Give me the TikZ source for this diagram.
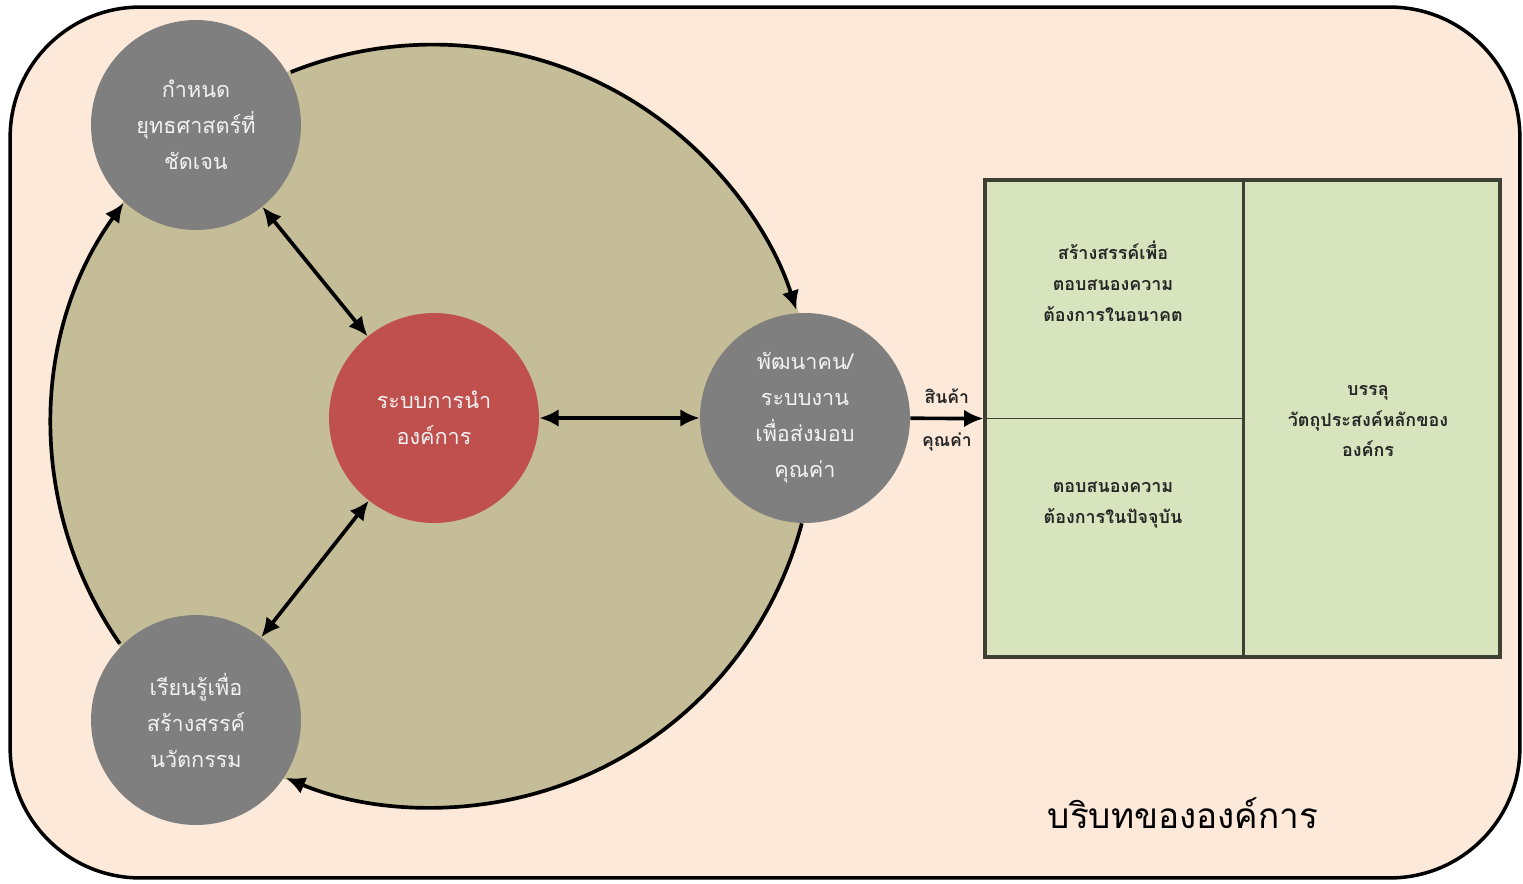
\documentclass[tikz,border=0pt]{standalone}
\usepackage{fontspec}
\newfontfamily\thai[Script=Thai]{Loma}
\usetikzlibrary{arrows.meta}
\definecolor{peach}{HTML}{FDE9D9}
\definecolor{tan}{HTML}{C4BD97}
\definecolor{gcol}{HTML}{7F7F7F}
\definecolor{rcol}{HTML}{C0504D}
\definecolor{grn}{HTML}{D7E4BD}
\definecolor{boxc}{HTML}{3F3F33}
\definecolor{ltext}{HTML}{F2F2F2}
\definecolor{dtext}{HTML}{262626}
\begin{document}
\begin{tikzpicture}[x=0.02cm,y=-0.02cm,
  smallc/.style={circle, inner sep=0pt, minimum size=4.2cm, align=center,
    text=ltext, font={\thai\fontsize{12.3}{20.5}\selectfont}},
  gcirc/.style={smallc, fill=gcol},
  rcirc/.style={smallc, fill=rcol},
  boxtext/.style={align=center, text=dtext, font={\thai\bfseries\fontsize{10.2}{17.6}\selectfont}},
  lbl/.style={text=dtext, font={\thai\bfseries\fontsize{10}{12}\selectfont}},
  conn/.style={line width=2.1pt, -{Latex[length=11pt,width=10pt]}},
  dbl/.style={line width=2.1pt, {Latex[length=11pt,width=10pt]}-{Latex[length=11pt,width=10pt]}}]
\useasboundingbox (0,0) rectangle (1523,883);
\node[draw, line width=2pt, fill=peach, rounded corners=2.6cm,
  minimum width=30.2cm, minimum height=17.42cm, inner sep=0pt] (ctx) at (765,442.5) {};
\node[circle, fill=tan, minimum size=15.32cm, inner sep=0pt, outer sep=0pt] (big) at (433,426) {};
\node[gcirc] (tl) at (196,125) {กำหนด\\ยุทธศาสตร์ที่\\ชัดเจน};
\node[gcirc] (bl) at (196,720) {เรียนรู้เพื่อ\\สร้างสรรค์\\นวัตกรรม};
\node[rcirc] (red) at (434,418) {ระบบการนำ\\องค์การ};
\node[gcirc] (rc) at (805,418) {พัฒนาคน/\\ระบบงาน\\เพื่อส่งมอบ\\คุณค่า};
\draw[conn] (big.center) ++(111.9:7.63cm) arc[start angle=111.9, end angle=17.7, radius=7.63cm];
\draw[conn] (big.center) ++(-14.8:7.63cm) arc[start angle=-14.8, end angle=-112.7, radius=7.63cm];
\draw[conn] (big.center) ++(214.8:7.63cm) arc[start angle=214.8, end angle=144.2, radius=7.63cm];
\draw[dbl] (tl) -- (red);
\draw[dbl] (bl) -- (red);
\draw[dbl] (red) -- (rc);
\node[draw=boxc, line width=1.8pt, fill=grn, minimum width=10.3cm, minimum height=9.54cm, inner sep=0pt] (box) at (1242.5,418.5) {};
\path (box.north west) ++(260,0) coordinate (dtop);
\path (box.south west) ++(260,0) coordinate (dbot);
\draw[boxc, line width=0.8pt] (box.west) -- (box.west -| dtop);
\draw[boxc, line width=1.8pt] (dtop) -- (dbot);
\draw[conn] (rc) -- node[lbl, above=4pt] {สินค้า} node[lbl, below=4pt] {คุณค่า} (box.west);
\node[boxtext] (fut) at (1113,281) {สร้างสรรค์เพื่อ\\ตอบสนองความ\\ต้องการในอนาคต};
\node[boxtext] (now) at (1113,505) {ตอบสนองความ\\ต้องการในปัจจุบัน};
\node[boxtext] (main) at (1368,421) {บรรลุ\\วัตถุประสงค์หลักของ\\องค์กร};
\node[font={\thai\fontsize{20}{24}\selectfont}] (cap) at (1183,813) {บริบทขององค์การ};
\end{tikzpicture}
\end{document}
